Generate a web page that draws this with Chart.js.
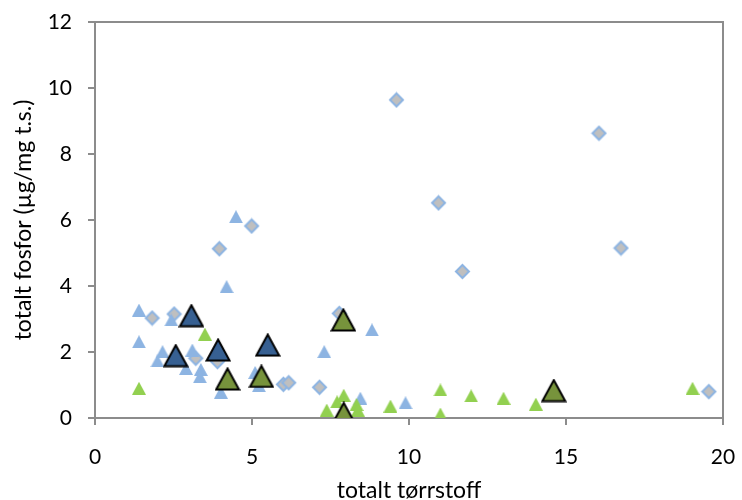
<!DOCTYPE html>
<html>
<head>
<meta charset="utf-8">
<script src="https://cdn.jsdelivr.net/npm/chart.js@4"></script>
<style>
  html, body { margin: 0; padding: 0; background: #fff; }
  #wrap { width: 742px; height: 500px; }
</style>
</head>
<body>
<div id="wrap"><canvas id="c" width="742" height="500"></canvas></div>
<script>
// ---- data (x = totalt tørrstoff, y = totalt fosfor µg/mg t.s.) ----
const diamondX = [1.82, 2.52, 3.21, 3.90, 3.96, 4.99, 6.00, 6.17, 7.15, 7.78, 9.60, 10.94, 11.70, 16.05, 16.75, 19.55];
const diamondY = [3.03, 3.15, 1.81, 1.71, 5.13, 5.82, 1.02, 1.07, 0.93, 3.17, 9.64, 6.52, 4.44, 8.63, 5.15, 0.80];

const lightBlueX = [1.40, 1.40, 2.43, 2.15, 1.99, 2.90, 3.10, 3.37, 3.34, 4.19, 4.49, 4.01, 5.10, 5.22, 7.30, 8.82, 8.45, 9.89];
const lightBlueY = [3.27, 2.31, 2.97, 2.01, 1.73, 1.50, 2.06, 1.47, 1.25, 3.98, 6.10, 0.78, 1.38, 0.98, 2.01, 2.67, 0.60, 0.46];

const lightGreenX = [1.40, 3.50, 7.38, 7.71, 7.92, 8.33, 8.37, 9.41, 11.00, 11.00, 11.98, 13.01, 14.04, 19.03];
const lightGreenY = [0.90, 2.54, 0.24, 0.49, 0.69, 0.41, 0.24, 0.36, 0.85, 0.12, 0.67, 0.60, 0.42, 0.90];

const darkBlueX = [3.07, 2.57, 3.92, 5.50];
const darkBlueY = [3.10, 1.89, 2.06, 2.21];

const darkGreenX = [4.22, 5.30, 7.91, 7.92, 14.61];
const darkGreenY = [1.18, 1.26, 2.97, 0.14, 0.83];

const xTicks = [0, 5, 10, 15, 20];
const yTicks = [0, 2, 4, 6, 8, 10, 12];
const xTitle = 'totalt tørrstoff';
const yTitle = 'totalt fosfor (µg/mg t.s.)';

function pts(xs, ys) { return xs.map((x, i) => ({ x: x, y: ys[i] })); }

// ---- marker images ----
function triangle(w, h, fill, stroke, lw) {
  const c = document.createElement('canvas');
  c.width = w; c.height = h;
  const g = c.getContext('2d');
  const o = lw ? lw * 0.75 : 0;
  g.beginPath();
  g.moveTo(w / 2, o);
  g.lineTo(w - o, h - o);
  g.lineTo(o, h - o);
  g.closePath();
  g.fillStyle = fill; g.fill();
  if (lw) { g.lineWidth = lw; g.strokeStyle = stroke; g.lineJoin = 'miter'; g.stroke(); }
  return c;
}
function diamond(s, fill, stroke, lw) {
  const c = document.createElement('canvas');
  c.width = s; c.height = s;
  const g = c.getContext('2d');
  const m = s / 2, o = lw;
  g.beginPath();
  g.moveTo(m, o); g.lineTo(s - o, m); g.lineTo(m, s - o); g.lineTo(o, m);
  g.closePath();
  g.fillStyle = fill; g.fill();
  g.lineWidth = lw; g.strokeStyle = stroke; g.stroke();
  return c;
}

const imgDiamond = diamond(17, '#BFBFBF', '#8DB4E2', 2);
const imgLightBlue = triangle(14, 13, '#8DB4E2', null, 0);
const imgLightGreen = triangle(14, 13, '#92D050', null, 0);
const imgDarkBlue = triangle(26, 24, '#376092', '#000', 2);
const imgDarkGreen = triangle(26, 24, '#77933C', '#000', 2);

const frame = {
  id: 'frame',
  beforeDatasetsDraw(chart) {
    const a = chart.chartArea, ctx = chart.ctx;
    ctx.save();
    ctx.strokeStyle = '#8c8c8c';
    ctx.lineWidth = 2;
    ctx.beginPath();
    ctx.moveTo(a.left, a.top); ctx.lineTo(a.right, a.top); ctx.lineTo(a.right, a.bottom);
    ctx.stroke();
    ctx.restore();
  }
};

function noEdgePad(s) { s.paddingLeft = 0; s.paddingRight = 0; s.paddingTop = 0; s.paddingBottom = 0; }

const FONT = 'Lato, "Open Sans", sans-serif';

new Chart(document.getElementById('c'), {
  type: 'scatter',
  data: {
    datasets: [
      { label: 'C', data: pts(darkGreenX, darkGreenY), pointStyle: imgDarkGreen, order: 1 },
      { label: 'B', data: pts(darkBlueX, darkBlueY), pointStyle: imgDarkBlue, order: 2 },
      { label: 'c', data: pts(lightGreenX, lightGreenY), pointStyle: imgLightGreen, order: 3 },
      { label: 'b', data: pts(lightBlueX, lightBlueY), pointStyle: imgLightBlue, order: 4 },
      { label: 'a', data: pts(diamondX, diamondY), pointStyle: imgDiamond, order: 5 }
    ]
  },
  options: {
    responsive: false,
    animation: false,
    devicePixelRatio: 1,
    layout: { padding: { left: 0, right: 19, top: 22, bottom: 0 } },
    plugins: { legend: { display: false }, tooltip: { enabled: false } },
    scales: {
      x: {
        type: 'linear', min: 0, max: 20,
        afterBuildTicks: s => { s.ticks = xTicks.map(v => ({ value: v })); },
        afterFit: s => { s.height = 82; noEdgePad(s); },
        border: { display: true, color: '#8c8c8c', width: 2 },
        grid: { display: true, drawOnChartArea: false, drawTicks: true, tickLength: 7, color: '#8c8c8c', lineWidth: 2 },
        ticks: { color: '#000', font: { family: FONT, size: 21 }, padding: 20, maxRotation: 0 },
        title: { display: true, text: xTitle, color: '#000', font: { family: FONT, size: 23, lineHeight: 1 }, padding: { top: 0, bottom: -2 } }
      },
      y: {
        type: 'linear', min: 0, max: 12,
        afterBuildTicks: s => { s.ticks = yTicks.map(v => ({ value: v })); },
        afterFit: s => { s.width = 95; noEdgePad(s); },
        border: { display: true, color: '#8c8c8c', width: 2 },
        grid: { display: true, drawOnChartArea: false, drawTicks: true, tickLength: 7, color: '#8c8c8c', lineWidth: 2 },
        ticks: { color: '#000', font: { family: FONT, size: 21 }, padding: 16 },
        title: { display: true, text: yTitle, color: '#000', font: { family: FONT, size: 23, lineHeight: 1 }, padding: { top: 12, bottom: 0 } }
      }
    }
  },
  plugins: [frame]
});
</script>
</body>
</html>
